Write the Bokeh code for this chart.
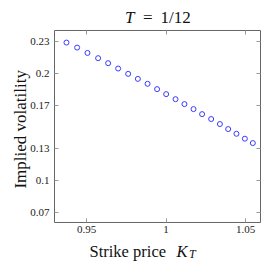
import math
from bokeh.plotting import figure
from bokeh.models import FixedTicker, LinearAxis, Label, Range1d
from bokeh.embed import file_html
from bokeh.resources import INLINE

# ---- data ----
strike = [0.9374, 0.9441, 0.9506, 0.9573, 0.9636, 0.9699, 0.9762, 0.9823,
          0.9884, 0.9944, 1.0001, 1.0060, 1.0116, 1.0173, 1.0227, 1.0284,
          1.0339, 1.0391, 1.0443, 1.0496, 1.0546]
implied_vol = [0.2290, 0.2243, 0.2193, 0.2144, 0.2097, 0.2047, 0.1997, 0.1950,
               0.1904, 0.1854, 0.1807, 0.1760, 0.1714, 0.1667, 0.1620, 0.1574,
               0.1527, 0.1480, 0.1436, 0.1390, 0.1349]
x_ticks = [0.95, 1.0, 1.05]
x_tick_labels = ["0.95", "1", "1.05"]
y_ticks = [0.07, 0.1, 0.13, 0.17, 0.2, 0.23]
y_tick_labels = ["0.07", "0.1", "0.13", "0.17", "0.2", "0.23"]

# axis box (data limits of the plotting area)
X_MIN, X_MAX = 0.92987, 1.05943
Y_MIN, Y_MAX = 0.06053, 0.24030

SERIF = "Liberation Serif"
TICK_COLOR = "#999999"
LINE_COLOR = "#666666"

# the canvas itself is the frame; the axis box is drawn with bounded axes
p = figure(width=262, height=261, output_backend="svg", toolbar_location=None,
           x_range=Range1d(0.89591, 1.06069), y_range=Range1d(0.02401, 0.26839),
           min_border=0, min_border_left=0, min_border_right=0,
           min_border_top=0, min_border_bottom=0,
           x_axis_location=None, y_axis_location=None, title=None)
p.background_fill_color = "white"
p.border_fill_color = "white"
p.outline_line_color = None
p.xgrid.visible = False
p.ygrid.visible = False


def make_axis(ticks, labels, fixed, bounds, show_labels, standoff):
    ax = LinearAxis(fixed_location=fixed, bounds=bounds)
    ax.ticker = FixedTicker(ticks=ticks)
    if show_labels:
        ax.major_label_overrides = {t: l for t, l in zip(ticks, labels)}
    else:
        ax.major_label_overrides = {t: "" for t in ticks}
    ax.major_tick_in = 4
    ax.major_tick_out = 0
    ax.major_tick_line_color = TICK_COLOR
    ax.major_tick_line_width = 1
    ax.minor_tick_line_color = None
    ax.axis_line_color = LINE_COLOR
    ax.axis_line_width = 1
    ax.major_label_text_font = SERIF
    ax.major_label_text_font_size = "11px"
    ax.major_label_text_color = "#222222"
    ax.major_label_standoff = standoff
    return ax


p.add_layout(make_axis(x_ticks, x_tick_labels, Y_MIN, (X_MIN, X_MAX), True, 4), "below")
p.add_layout(make_axis(x_ticks, x_tick_labels, Y_MAX, (X_MIN, X_MAX), False, 0), "above")
p.add_layout(make_axis(y_ticks, y_tick_labels, X_MIN, (Y_MIN, Y_MAX), True, 5), "left")
p.add_layout(make_axis(y_ticks, y_tick_labels, X_MAX, (Y_MIN, Y_MAX), False, 0), "right")

p.scatter(strike, implied_vol, marker="circle", size=5, fill_color=None,
          line_color="#3a3aff", line_width=1)


def lab(x, y, text, size, style="normal", align="left", baseline="alphabetic", angle=0.0):
    p.add_layout(Label(x=x, y=y, text=text, text_font=SERIF, text_font_size=size,
                       text_font_style=style, text_align=align,
                       text_baseline=baseline, text_color="#111111", angle=angle))


# title  T = 1/12
lab(0.98019, 0.25275, "T", "17px", "italic", "right")
lab(0.98855, 0.25275, "=", "17px", "normal", "center")
lab(0.99654, 0.25275, "1/12", "17px")

# x label  Strike price K_T
lab(0.95189, 0.03365, "Strike price", "16.5px")
lab(1.00660, 0.03365, "K", "16.5px", "italic")
lab(1.01447, 0.03122, "T", "12px", "italic")

# y label
lab(0.90818, 0.14779, "Implied volatility", "17px", "normal", "center", "middle", math.pi / 2)

open("out.html", "w").write(file_html(p, INLINE))
